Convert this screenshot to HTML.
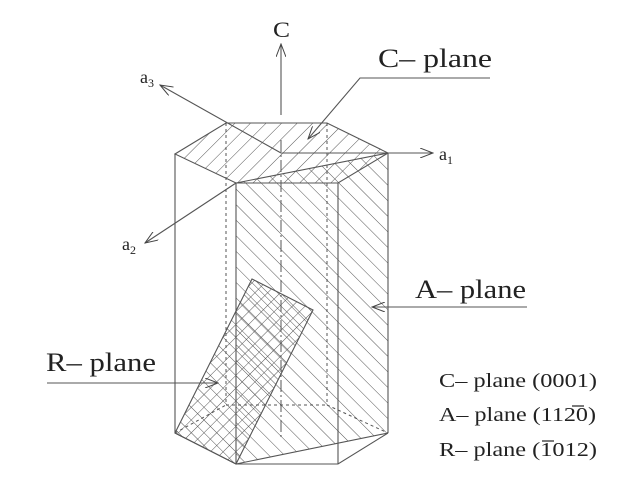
<!DOCTYPE html>
<html><head><style>
html,body{margin:0;padding:0;background:#fff;}
svg{display:block;}
text{font-family:"Liberation Serif",serif;fill:#222;}
</style></head><body>
<svg width="620" height="477" viewBox="0 0 620 477" xmlns="http://www.w3.org/2000/svg">
<defs>
<pattern id="fw" patternUnits="userSpaceOnUse" width="11" height="11" patternTransform="rotate(45)">
<line x1="0" y1="0" x2="0" y2="11" stroke="#555" stroke-width="1"/></pattern>
<pattern id="bk" patternUnits="userSpaceOnUse" width="11" height="11" patternTransform="rotate(-45)">
<line x1="0" y1="0" x2="0" y2="11" stroke="#555" stroke-width="1"/></pattern>
<pattern id="bk2" patternUnits="userSpaceOnUse" width="9" height="9" patternTransform="rotate(-45)">
<line x1="0" y1="0" x2="0" y2="9" stroke="#555" stroke-width="1"/></pattern>
<pattern id="fw2" patternUnits="userSpaceOnUse" width="9" height="9" patternTransform="rotate(45)">
<line x1="0" y1="0" x2="0" y2="9" stroke="#555" stroke-width="1"/></pattern>
<marker id="ah" markerWidth="14" markerHeight="10" refX="13" refY="5" orient="auto" markerUnits="userSpaceOnUse">
<path d="M0,0 L13,5 L0,10" fill="none" stroke="#444" stroke-width="1"/></marker>
</defs>
<g stroke="#555" stroke-width="1.1" fill="none">
<polygon points="226,123 327,123 388,153 338,183 236,183 175,154" fill="url(#fw)" stroke="none"/>
<polygon points="236,183 388,153 388,433 236,464" fill="url(#bk)" stroke="none"/>
<polygon points="252,279 313,310 236,464 175,433" fill="url(#bk2)" stroke="none"/>
<polygon points="252,279 313,310 236,464 175,433" fill="url(#fw2)" stroke="none"/>
<polygon points="252,279 313,310 236,464 175,433"/>
<g stroke-dasharray="3,3" stroke-width="1">
<line x1="226" y1="123" x2="226" y2="405"/>
<line x1="327" y1="123" x2="327" y2="405"/>
<line x1="226" y1="405" x2="327" y2="405"/>
<line x1="175" y1="433" x2="226" y2="405"/>
<line x1="327" y1="405" x2="388" y2="433"/>
</g>
<line x1="281" y1="140" x2="281" y2="437" stroke-dasharray="12,3,2,3" stroke-width="1"/>
<polygon points="226,123 327,123 388,153 338,183 236,183 175,154"/>
<line x1="236" y1="183" x2="388" y2="153"/>
<line x1="175" y1="154" x2="175" y2="433"/>
<line x1="236" y1="183" x2="236" y2="464"/>
<line x1="338" y1="183" x2="338" y2="464"/>
<line x1="388" y1="153" x2="388" y2="433"/>
<polyline points="175,433 236,464 338,464 388,433"/>
<line x1="236" y1="464" x2="388" y2="433"/>
<line x1="281" y1="115" x2="281" y2="44" marker-end="url(#ah)"/>
<line x1="281" y1="153" x2="160" y2="85" marker-end="url(#ah)"/>
<line x1="281" y1="153" x2="433" y2="153" marker-end="url(#ah)"/>
<line x1="236" y1="183" x2="145" y2="243" marker-end="url(#ah)"/>
<polyline points="490,78 360,78 308,139" marker-end="url(#ah)"/>
<line x1="527" y1="307" x2="372" y2="307" marker-end="url(#ah)"/>
<line x1="47" y1="383" x2="218" y2="383" marker-end="url(#ah)"/>
</g>
<text x="273" y="37" font-size="22" textLength="17" lengthAdjust="spacingAndGlyphs">C</text>
<text x="378" y="67" font-size="26" textLength="114" lengthAdjust="spacingAndGlyphs">C– plane</text>
<text x="415" y="298" font-size="26" textLength="111" lengthAdjust="spacingAndGlyphs">A– plane</text>
<text x="46" y="371" font-size="26" textLength="110" lengthAdjust="spacingAndGlyphs">R– plane</text>
<text x="140" y="83" font-size="18">a<tspan font-size="12" dy="4">3</tspan></text>
<text x="439" y="160" font-size="18">a<tspan font-size="12" dy="4">1</tspan></text>
<text x="122" y="250" font-size="18">a<tspan font-size="12" dy="4">2</tspan></text>
<text x="439" y="387" font-size="20" textLength="158" lengthAdjust="spacingAndGlyphs">C– plane (0001)</text>
<text x="439" y="421" font-size="20" textLength="157" lengthAdjust="spacingAndGlyphs">A– plane (1120)</text>
<text x="439" y="456" font-size="20" textLength="158" lengthAdjust="spacingAndGlyphs">R– plane (1012)</text>
<line x1="572" y1="406" x2="584" y2="406" stroke="#222" stroke-width="1.2"/>
<line x1="542" y1="441" x2="554" y2="441" stroke="#222" stroke-width="1.2"/>
</svg>
</body></html>
